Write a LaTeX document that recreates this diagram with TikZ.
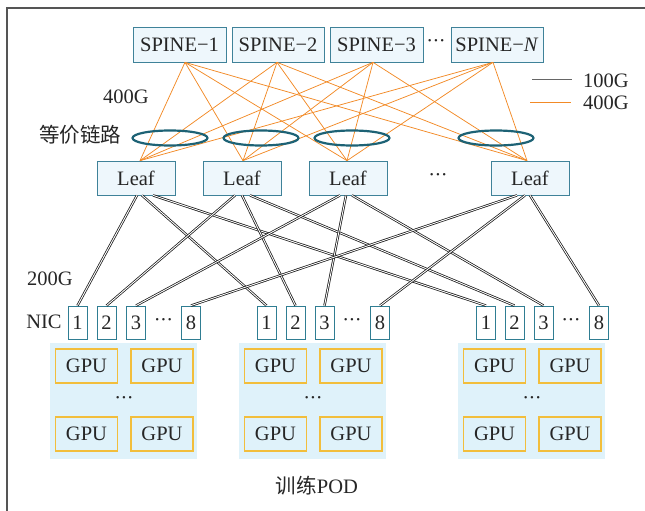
\documentclass[tikz,border=0pt]{standalone}
\usepackage{fontspec}
\setmainfont{Liberation Serif}
\newfontfamily\cjk{Noto Sans CJK SC}
\usetikzlibrary{shapes.geometric}

\definecolor{boxfill}{HTML}{EEF7FC}
\definecolor{boxline}{HTML}{3F8299}
\definecolor{nicline}{HTML}{2F7D92}
\definecolor{ringcol}{HTML}{1D6275}
\definecolor{linkorange}{HTML}{F28A26}
\definecolor{podfill}{HTML}{DFF2FA}
\definecolor{gpuline}{HTML}{F2BE3C}
\definecolor{framecol}{HTML}{555555}

% three tight centred dots
\newcommand{\tdots}{·\kern-0.5pt·\kern-0.5pt·}

\tikzset{
  txt/.style={font=\fontsize{20.5}{23}\selectfont, text=black!85, inner sep=0pt},
  switchbox/.style={txt, draw=boxline, fill=boxfill, line width=0.7pt, minimum height=35pt},
  leafbox/.style={switchbox, minimum width=78pt, minimum height=34pt},
  nicbox/.style={txt, draw=nicline, fill=white, line width=0.8pt, minimum width=19pt, minimum height=33pt},
  gpubox/.style={txt, draw=gpuline, fill=podfill, line width=1.3pt, minimum width=62pt, minimum height=34pt},
  podpanel/.style={fill=podfill, draw=none, minimum width=147pt, minimum height=116pt, inner sep=0pt},
  ring/.style={ellipse, draw=ringcol, line width=2.2pt, minimum width=75pt, minimum height=15pt, inner sep=0pt},
  uplink/.style={draw=linkorange, line width=0.75pt},
  downlink/.style={draw=black!90, double=white, line width=0.75pt, double distance=0.9pt},
  dots/.style={txt}
}

\begin{document}
\begin{tikzpicture}[x=1pt,y=-1pt]
\useasboundingbox (0,0) rectangle (645,511);

% outer frame (top and left edges)
\draw[framecol, line width=1.1pt] (7,511) -- (7,8) -- (645,8);

% spine switches
\node[switchbox, minimum width=93pt] (s1) at (179.5,44.5) {SPINE−1};
\node[switchbox, minimum width=92pt] (s2) at (278,44.5) {SPINE−2};
\node[switchbox, minimum width=93pt] (s3) at (376.5,44.5) {SPINE−3};
\node[switchbox, minimum width=92pt] (sN) at (497,44.5) {SPINE−\textit{N}};
\node[dots] (sdots) at (436,44) {\tdots};

% leaf switches
\node[leafbox] (l1) at (136,178) {Leaf};
\node[leafbox] (l2) at (242,178) {Leaf};
\node[leafbox] (l3) at (348,178) {Leaf};
\node[leafbox] (l4) at (530,178) {Leaf};
\node[dots] (ldots) at (438,177) {\tdots};

% spine-to-leaf 400G links
\coordinate (a1) at ([xshift=5.5pt]s1.south);
\coordinate (a2) at ([xshift=-1pt]s2.south);
\coordinate (a3) at ([xshift=-3.5pt]s3.south);
\coordinate (a4) at ([xshift=-4pt]sN.south);
\coordinate (b1) at ([xshift=4pt]l1.north);
\coordinate (b2) at ([xshift=1pt]l2.north);
\coordinate (b3) at ([xshift=-1pt]l3.north);
\coordinate (b4) at ([xshift=-3pt]l4.north);
\foreach \s in {a1,a2,a3,a4}{
  \foreach \l in {b1,b2,b3,b4}{
    \draw[uplink] (\s) -- (\l);
  }
}

% equal-cost link groups
\node[ring] (r1) at (170,138) {};
\node[ring] (r2) at (261,138) {};
\node[ring] (r3) at (352,138) {};
\node[ring] (r4) at (496,138) {};

% labels
\node[txt] (lab400) at (126,97) {400G};
\node[txt, font=\cjk\fontsize{20.5}{23}\selectfont] (labecmp) at (80,135) {等价链路};
\node[txt] (lab200) at (50,279) {200G};
\node[txt] (labnic) at (44,322) {NIC};

% legend
\coordinate (leg1a) at (532,79);
\coordinate (leg1b) at (572,79);
\coordinate (leg2a) at (530,102);
\coordinate (leg2b) at (571,102);
\draw[black!60, line width=1pt] (leg1a) -- (leg1b);
\draw[linkorange, line width=1pt] (leg2a) -- (leg2b);
\node[txt, anchor=west] (leg100) at (583,81) {100G};
\node[txt, anchor=west] (leg400) at (583,103) {400G};

% GPU pods
\node[podpanel, anchor=north west] (podA) at (50,343) {};
\node[podpanel, anchor=north west] (podB) at (239,343) {};
\node[podpanel, anchor=north west] (podC) at (458,343) {};

\node[gpubox] (gpuA1) at (86.5,366) {GPU};
\node[gpubox] (gpuA2) at (162,366) {GPU};
\node[gpubox] (gpuA3) at (86.5,434) {GPU};
\node[gpubox] (gpuA4) at (162,434) {GPU};
\node[dots]   (gdotA) at (124,400) {\tdots};

\node[gpubox] (gpuB1) at (275.5,366) {GPU};
\node[gpubox] (gpuB2) at (351,366) {GPU};
\node[gpubox] (gpuB3) at (275.5,434) {GPU};
\node[gpubox] (gpuB4) at (351,434) {GPU};
\node[dots]   (gdotB) at (313,400) {\tdots};

\node[gpubox] (gpuC1) at (494.5,366) {GPU};
\node[gpubox] (gpuC2) at (570,366) {GPU};
\node[gpubox] (gpuC3) at (494.5,434) {GPU};
\node[gpubox] (gpuC4) at (570,434) {GPU};
\node[dots]   (gdotC) at (532,400) {\tdots};

% NIC ports
\foreach \p/\xa/\xb/\xc/\xd/\xe in {1/77.5/106.5/136/191/163.5, 2/266.5/295.5/324.5/380/352, 3/486/514.5/543.5/599/571}{
  \node[nicbox] (n\p-1) at (\xa,322.5) {1};
  \node[nicbox] (n\p-2) at (\xb,322.5) {2};
  \node[nicbox] (n\p-3) at (\xc,322.5) {3};
  \node[nicbox] (n\p-8) at (\xd,322.5) {8};
  \node[dots] (nd\p) at (\xe,322) {\tdots};
}

% leaf-to-NIC 200G links (rail-optimised)
\foreach \l/\n/\da/\db/\dc in {1/1/1/6/17, 2/2/-7/0/8, 3/3/-8/-2/4, 4/8/-13/-5/0}{
  \draw[downlink] ([xshift=\da pt]l\l.south) -- (n1-\n.north);
  \draw[downlink] ([xshift=\db pt]l\l.south) -- (n2-\n.north);
  \draw[downlink] ([xshift=\dc pt]l\l.south) -- (n3-\n.north);
}

% caption
\node[txt] (podlabel) at (317,486) {{\cjk 训练}POD};
\end{tikzpicture}
\end{document}
